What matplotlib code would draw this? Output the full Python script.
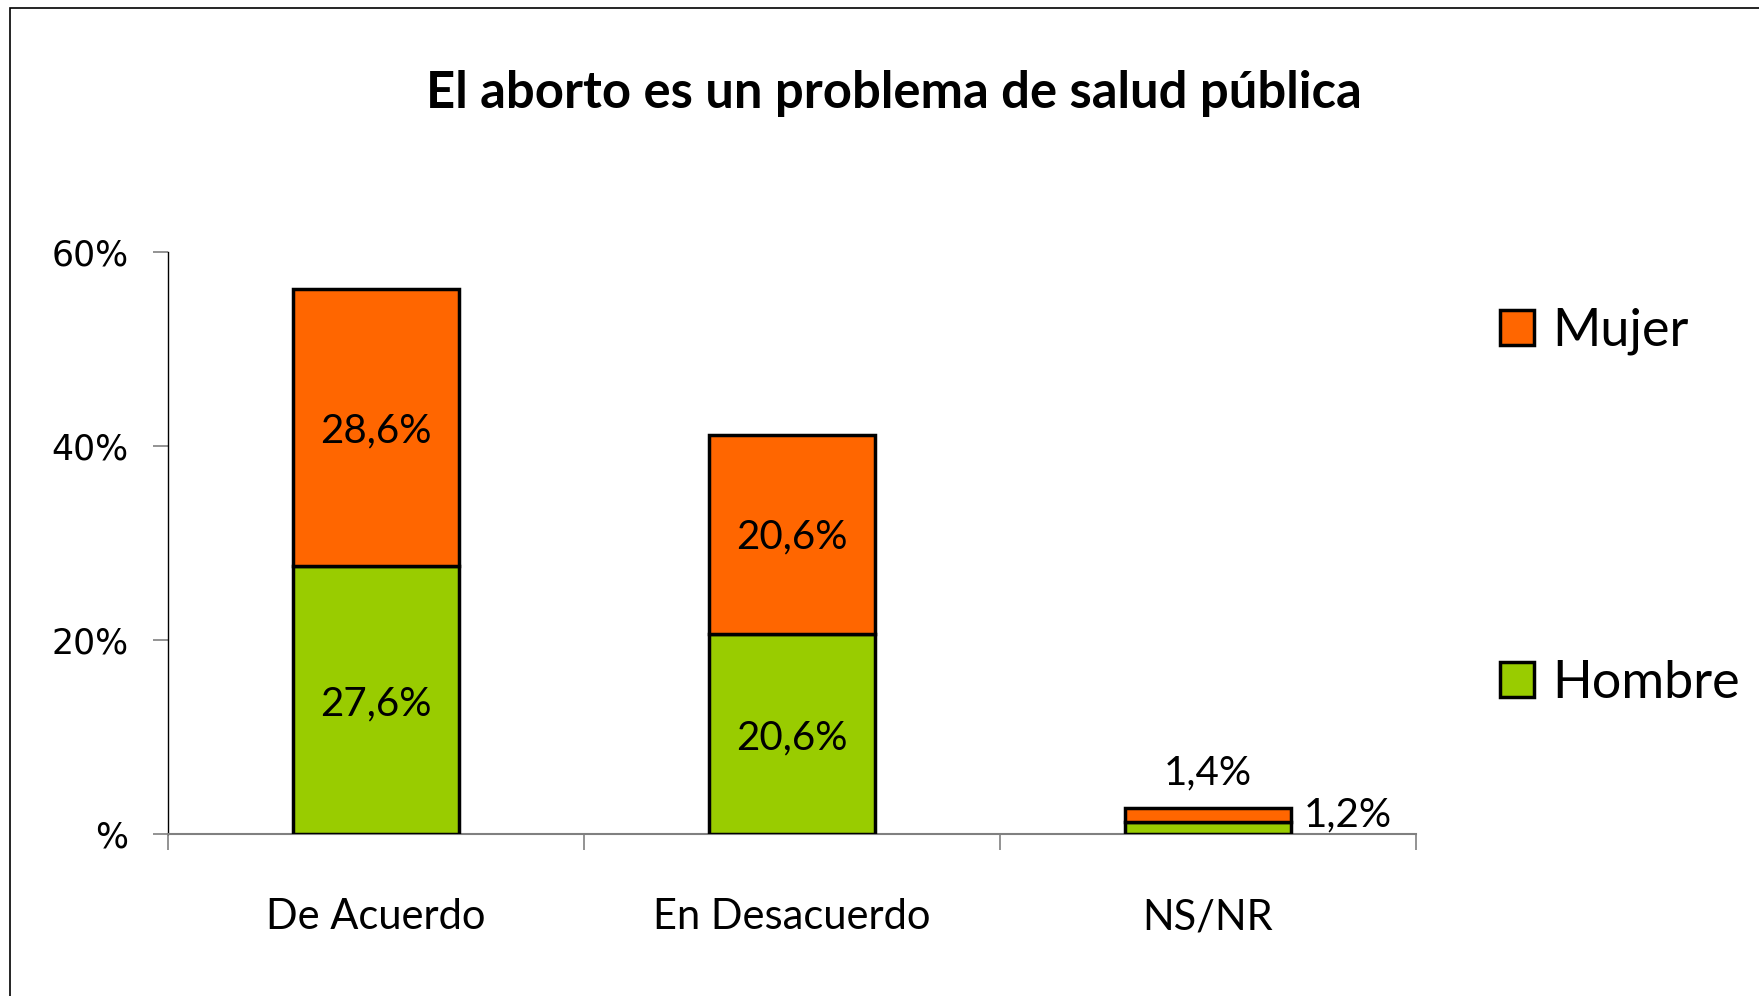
import matplotlib
matplotlib.use("Agg")
import matplotlib.pyplot as plt
from matplotlib.patches import Patch, Rectangle
from matplotlib.ticker import FixedLocator

categories = ["De Acuerdo", "En Desacuerdo", "NS/NR"]
hombre = [27.6, 20.6, 1.2]
mujer = [28.6, 20.6, 1.4]
hombre_labels = ["27,6%", "20,6%", "1,2%"]
mujer_labels = ["28,6%", "20,6%", "1,4%"]
yticks = [0, 20, 40, 60]
ytick_labels = ["%", "20%", "40%", "60%"]
title = "El aborto es un problema de salud pública"

c_mujer = "#FF6600"
c_hombre = "#99CC00"

fig = plt.figure(figsize=(17.59, 9.96), dpi=100)
fig.patches.append(Rectangle((10 / 1759, -0.1), 1.2, 1 - 8 / 996 + 0.1,
                             transform=fig.transFigure, fill=False,
                             edgecolor="black", linewidth=1.2))
ax = fig.add_axes([0.0955, 0.163, 0.805 - 0.0955, 0.7466 - 0.163])

x = list(range(len(categories)))
ax.bar(x, hombre, width=0.4, color=c_hombre, edgecolor="black", linewidth=2.5, zorder=3)
ax.bar(x, mujer, width=0.4, bottom=hombre, color=c_mujer, edgecolor="black", linewidth=2.5, zorder=3)

lab_font = dict(family=["Lato", "DejaVu Sans"], fontsize=29, color="black")
for i in range(len(categories)):
    if hombre[i] > 5:
        ax.text(i, hombre[i] / 2 - 0.4, hombre_labels[i], ha="center", va="center", **lab_font)
        ax.text(i, hombre[i] + mujer[i] / 2 - 0.3, mujer_labels[i], ha="center", va="center", **lab_font)
    else:
        ax.text(i, hombre[i] + mujer[i] + 1.8, mujer_labels[i], ha="center", va="bottom", **lab_font)
        ax.text(i + 0.23, hombre[i] + mujer[i] / 2, hombre_labels[i], ha="left", va="center", **lab_font)

ax.set_xlim(-0.5, 2.5)
ax.set_ylim(0, 60)
ax.set_yticks(yticks)
ax.set_yticklabels(ytick_labels, fontsize=25, family="DejaVu Sans")
ax.tick_params(axis="y", direction="out", length=10.5, width=1.2, color="#808080", pad=18)

ax.set_xticks(x)
ax.set_xticklabels(categories, family=["Lato", "DejaVu Sans"], fontsize=30)
ax.tick_params(axis="x", which="major", length=0, pad=46.5)
ax.xaxis.set_minor_locator(FixedLocator([-0.5, 0.5, 1.5, 2.5]))
ax.tick_params(axis="x", which="minor", direction="out", length=11.5, width=1.2, color="#808080")

for s in ["top", "right"]:
    ax.spines[s].set_visible(False)
ax.spines["left"].set_color("black")
ax.spines["left"].set_linewidth(1.0)
ax.spines["bottom"].set_color("#808080")
ax.spines["bottom"].set_linewidth(1.5)

fig.text(0.508, 0.9066, title, ha="center", va="center", fontsize=36.5,
         fontweight="bold", family=["Lato", "DejaVu Sans"])

handles = [Patch(facecolor=c_mujer, edgecolor="black", linewidth=2.5, label="Mujer"),
           Patch(facecolor=c_hombre, edgecolor="black", linewidth=2.5, label="Hombre")]
fig.legend(handles=handles, loc="center left", bbox_to_anchor=(0.853, 0.4906),
           frameon=False, borderpad=0, borderaxespad=0, labelspacing=5.85,
           handlelength=0.65, handleheight=0.65, handletextpad=0.35,
           prop=dict(family=["Lato", "DejaVu Sans"], size=37.5))

fig.savefig("out.png", dpi=100)
